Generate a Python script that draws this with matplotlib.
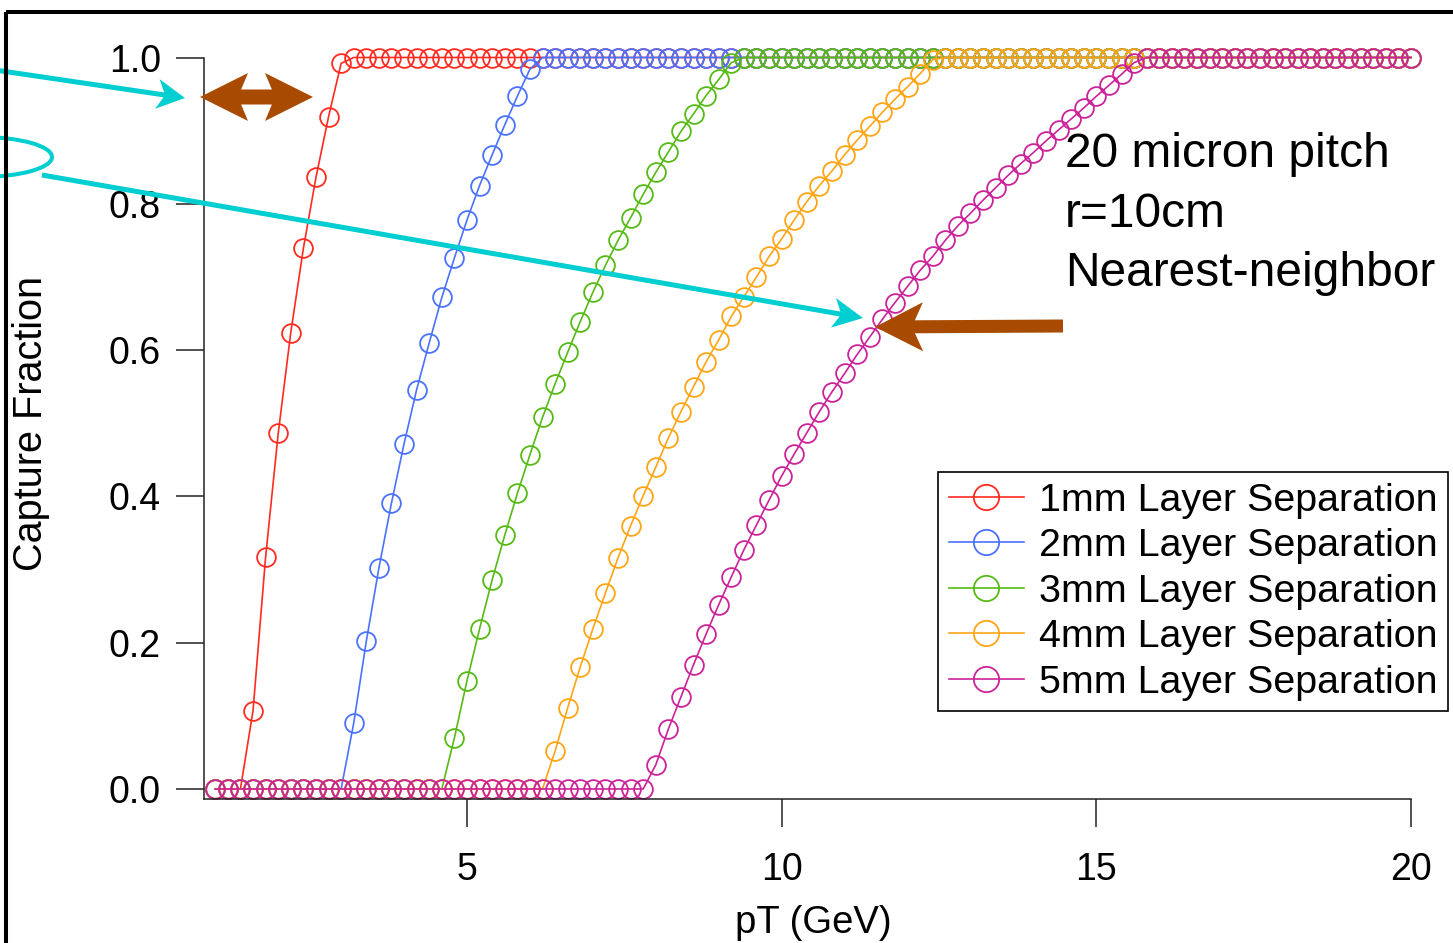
import numpy as np
import matplotlib
matplotlib.use("Agg")
import matplotlib.pyplot as plt
from matplotlib.patches import Polygon, Ellipse, Rectangle
from matplotlib.transforms import Affine2D

# ---------------- data ----------------
pT = np.round(np.arange(1.0, 20.0001, 0.2), 1)   # 96 pT samples, 0.2 GeV apart

labels = ["1mm Layer Separation", "2mm Layer Separation", "3mm Layer Separation",
          "4mm Layer Separation", "5mm Layer Separation"]
colors = ["#FF2A20", "#4A72FF", "#55BB14", "#FFA514", "#CC2299"]

sep1 = [0.0] * 3 + [0.107, 0.317, 0.486, 0.624, 0.739, 0.836, 0.919, 0.992] + [1.0] * 85
sep2 = [0.0] * 11 + [0.090, 0.202, 0.302, 0.391, 0.472, 0.546, 0.610, 0.672, 0.726,
                     0.778, 0.825, 0.867, 0.908, 0.947, 0.984] + [1.0] * 70
sep3 = [0.0] * 19 + [0.070, 0.148, 0.219, 0.286, 0.347, 0.404, 0.457, 0.508, 0.554,
                     0.597, 0.639, 0.679, 0.716, 0.750, 0.781, 0.813, 0.843, 0.871,
                     0.899, 0.923, 0.948, 0.970, 0.993] + [1.0] * 54
sep4 = [0.0] * 27 + [0.052, 0.111, 0.167, 0.219, 0.268, 0.316, 0.360, 0.401, 0.440,
                     0.480, 0.516, 0.550, 0.584, 0.614, 0.646, 0.673, 0.700, 0.728,
                     0.752, 0.778, 0.803, 0.825, 0.845, 0.867, 0.887, 0.906, 0.925,
                     0.943, 0.960, 0.978, 0.997] + [1.0] * 38
sep5 = [0.0] * 35 + [0.033, 0.082, 0.126, 0.170, 0.212, 0.252, 0.290, 0.327, 0.361,
                     0.395, 0.428, 0.458, 0.487, 0.516, 0.543, 0.568, 0.594, 0.618,
                     0.642, 0.665, 0.687, 0.709, 0.728, 0.750, 0.770, 0.787, 0.805,
                     0.822, 0.839, 0.855, 0.870, 0.886, 0.901, 0.916, 0.931, 0.947,
                     0.962, 0.977, 0.993] + [1.0] * 22
series = [sep1, sep2, sep3, sep4, sep5]

yticks = [0.0, 0.2, 0.4, 0.6, 0.8, 1.0]
xticks = [5, 10, 15, 20]
note_lines = ["20 micron pitch", "r=10cm", "Nearest-neighbor"]

# ---------------- figure ----------------
plt.rcParams['font.family'] = ['Liberation Sans', 'DejaVu Sans']
W, H = 1453, 943
fig = plt.figure(figsize=(W / 100, H / 100), dpi=100)
fig.patch.set_facecolor('white')

# pixel (top-left origin) -> figure transform for annotations
pix = Affine2D().scale(1.0 / W, -1.0 / H).translate(0, 1) + fig.transFigure

ax = fig.add_axes([204 / W, 1 - 799 / H, (1411 - 204) / W, (799 - 57.5) / H])
ax.set_xlim(0.821, 20.0)
ax.set_ylim(-0.0137, 1.0)

for vals, c, lab in zip(series, colors, labels):
    ax.plot(pT, vals, '-o', color=c, lw=1.2, ms=13.5, mfc='none', mec=c, mew=1.3,
            clip_on=False, label=lab)

for s in ['top', 'right']:
    ax.spines[s].set_visible(False)
for s in ['left', 'bottom']:
    ax.spines[s].set_linewidth(1.1)
    ax.spines[s].set_color('#222222')

ax.set_yticks(yticks)
ax.set_yticklabels([f"{v:.1f}" for v in yticks])
ax.set_xticks(xticks)
ax.set_xticklabels([str(v) for v in xticks])
ax.tick_params(axis='both', direction='out', length=20, width=1.1, labelsize=27,
               color='#222222')
ax.tick_params(axis='y', pad=11)
ax.tick_params(axis='x', pad=18)

ax.set_xlabel('pT (GeV)', fontsize=27.5)
ax.xaxis.set_label_coords((813 - 204) / 1207, -(933 - 799) / 741.5)
ax.xaxis.label.set_va('baseline')
ax.set_ylabel('Capture Fraction', fontsize=28.5)
ax.yaxis.set_label_coords((31 - 204) / 1207, (799 - 423) / 741.5)
ax.yaxis.label.set_va('center')

leg = ax.legend(loc='upper left', bbox_to_anchor=(938 / W, 1 - 472 / H),
                bbox_transform=fig.transFigure, fontsize=28.4, frameon=True,
                fancybox=False, edgecolor='black', framealpha=1, borderpad=0.27,
                labelspacing=0.24, handlelength=1.9, handletextpad=0.38,
                markerscale=1.35, borderaxespad=0)
leg.get_frame().set_linewidth(1.2)

# annotation text
for line, base in zip(note_lines, [167, 227, 286]):
    fig.text(1065 / W, 1 - base / H, line, fontsize=34.5, ha='left', va='baseline')

# ---------------- arrows / shapes ----------------
cyan = '#00CED1'
brown = '#A84A00'


def arrow_poly(S, T, w, L, h, n):
    S = np.array(S, float)
    T = np.array(T, float)
    u = (T - S) / np.linalg.norm(T - S)
    v = np.array([-u[1], u[0]])
    back = T - u * L
    t = (w / 2) / h
    j = T - u * (L - n * (1 - t))
    return [S + v * w / 2, j + v * w / 2, back + v * h, T, back - v * h,
            j - v * w / 2, S - v * w / 2]


def double_arrow_poly(A, B, w, L, h, n):
    A = np.array(A, float)
    B = np.array(B, float)
    u = (B - A) / np.linalg.norm(B - A)
    v = np.array([-u[1], u[0]])
    t = (w / 2) / h
    d = L - n * (1 - t)
    return [A, A + u * L + v * h, A + u * d + v * w / 2, B - u * d + v * w / 2,
            B - u * L + v * h, B, B - u * L - v * h, B - u * d - v * w / 2,
            A + u * d - v * w / 2, A + u * L - v * h]


def add_poly(pts, color):
    fig.add_artist(Polygon(pts, closed=True, transform=pix, facecolor=color,
                           edgecolor='none', zorder=5))


add_poly(arrow_poly((-5, 70), (185, 98), 5, 28, 15, 8), cyan)
add_poly(arrow_poly((42, 175), (863, 318), 5, 30, 15, 8), cyan)
add_poly(double_arrow_poly((200, 97), (313, 97), 15, 48, 24, 10), brown)
add_poly(arrow_poly((1063, 326), (875, 327), 13, 48, 24.5, 11), brown)

fig.add_artist(Ellipse((-20, 157), 144, 40, transform=pix, fill=False,
                       edgecolor=cyan, linewidth=2.9, zorder=5))
fig.add_artist(Rectangle((6, 12), 3000, 3000, transform=pix, fill=False,
                         edgecolor='black', linewidth=2.9, zorder=6))

fig.savefig('out.png', dpi=100)
